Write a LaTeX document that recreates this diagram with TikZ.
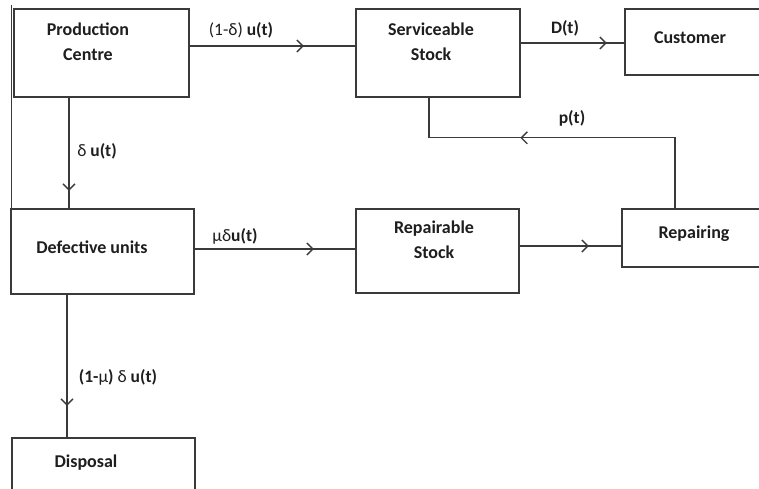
\documentclass[tikz,border=0pt]{standalone}
\usepackage{fontspec}
\setmainfont{Carlito}
\usetikzlibrary{decorations.markings,arrows.meta}
\definecolor{linec}{HTML}{3A3A3A}
\definecolor{textc}{HTML}{1E1E1E}
\tikzset{
  box/.style={draw=linec, line width=1.6pt, rectangle, inner sep=0pt},
  txt/.style={text=textc, font=\fontsize{18}{25}\selectfont\bfseries, align=center, inner sep=0pt},
  lbl/.style={text=textc, font=\fontsize{17.5}{25}\selectfont\bfseries, inner sep=0pt},
  flow/.style={color=linec, line width=1.3pt, postaction={decorate},
    decoration={markings, mark=at position #1 with {\arrow{Straight Barb[length=6pt,width=12pt,line width=1.3pt]}}}}
}
\newcommand{\gk}[1]{{\mdseries #1}}
\begin{document}
\begin{tikzpicture}[x=1pt,y=-1pt]
\useasboundingbox (0,0) rectangle (759,488);
\clip (0,0) rectangle (759,488);
\fill[white] (0,0) rectangle (759,488);
% boxes
\node[box, minimum width=175pt, minimum height=88pt] (prod) at (101.5,53) {};
\node[box, minimum width=164pt, minimum height=88pt] (serv) at (438,53) {};
\node[box, minimum width=155pt, minimum height=66pt] (cust) at (702.5,42) {};
\node[box, minimum width=183pt, minimum height=85pt] (def) at (102.5,251.5) {};
\node[box, minimum width=163pt, minimum height=84pt] (repa) at (437.5,251) {};
\node[box, minimum width=158pt, minimum height=58pt] (repg) at (701,238) {};
\node[box, minimum width=183pt, minimum height=82pt] (disp) at (103.5,479) {};
% left frame line
\coordinate (fa) at (11.5,5);
\coordinate (fb) at (11.5,250);
\draw[color=linec, line width=1.3pt] (fa) -- (fb);
% box texts
\node[txt] (tprod) at (88,42) {Production\\Centre};
\node[txt] (tserv) at (431,42) {Serviceable\\Stock};
\node[txt] (tcust) at (690,38) {Customer};
\node[txt] (tdef) at (92,247) {Defective units};
\node[txt] (trepa) at (434,240) {Repairable\\Stock};
\node[txt] (trepg) at (694,234) {Repairing};
\node[txt] (tdisp) at (86,463) {Disposal};
% connectors
\draw[flow=114pt] ([yshift=7pt]prod.east) -- ([yshift=7pt]serv.west);
\draw[flow=86pt] ([yshift=10pt]serv.east) -- ([yshift=-1pt]cust.west);
\draw[flow=93pt] ([xshift=-32.5pt]prod.south) -- ([xshift=-32.5pt]prod.south |- def.north);
\draw[flow=119pt] ([yshift=2.5pt]def.east) -- ([yshift=2pt]repa.west);
\draw[flow=69pt] ([yshift=5pt]repa.east) -- ([yshift=-8pt]repg.west);
\draw[flow=111pt] ([xshift=-35.5pt]def.south) -- ([xshift=-35.5pt]def.south |- disp.north);
\draw[flow=225pt] ([xshift=-26pt]repg.north) |- ([xshift=-9pt,yshift=-40pt]serv.south) -- ([xshift=-9pt]serv.south);
% labels
\node[lbl] (l1) at (241,30) {\gk{(1-δ)} u(t)};
\node[lbl] (l2) at (97,151) {\gk{δ} u(t)};
\node[lbl] (l3) at (565,28) {D(t)};
\node[lbl] (l4) at (572,118) {p(t)};
\node[lbl] (l5) at (235,236) {\gk{μδ}u(t)};
\node[lbl] (l6) at (118,377) {(1-\gk{μ}) \gk{δ} u(t)};
\end{tikzpicture}
\end{document}
